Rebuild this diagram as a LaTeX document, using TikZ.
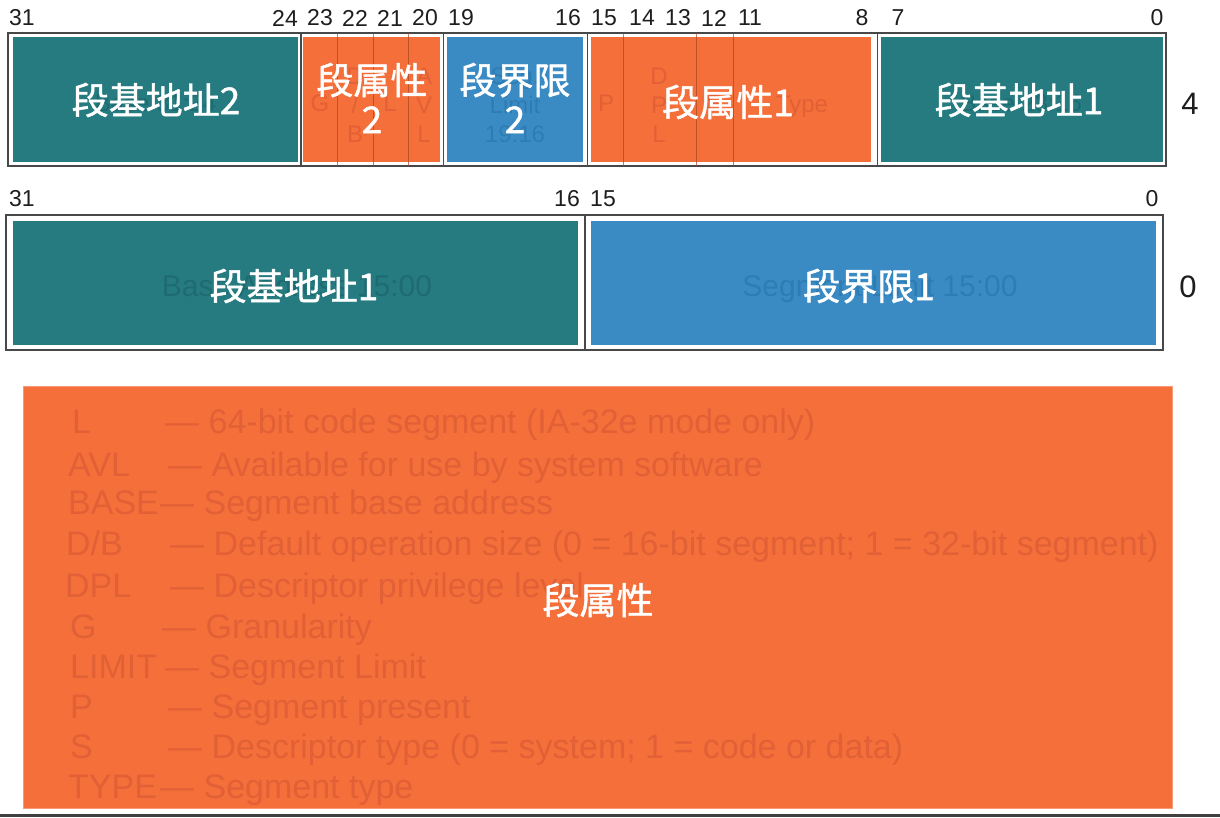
\documentclass[tikz,border=0pt]{standalone}
\usepackage{fontspec}
\setmainfont{Liberation Sans}
\newfontfamily\cjk{Noto Sans CJK SC}[FakeBold=1.2]
\definecolor{cteal}{RGB}{38,123,128}
\definecolor{cblue}{RGB}{58,139,196}
\definecolor{corange}{RGB}{245,111,59}
\definecolor{fteal}{RGB}{30,108,114}
\definecolor{fblue}{RGB}{46,124,180}
\definecolor{forange}{RGB}{226,96,54}
\definecolor{framegray}{RGB}{72,72,72}
\definecolor{numgray}{RGB}{30,30,30}
\definecolor{bitline}{RGB}{170,70,35}
\begin{document}
\begin{tikzpicture}[x=1pt,y=-1pt,
  cell/.style={rectangle,inner sep=0pt,outer sep=0pt,draw=none},
  frame/.style={rectangle,inner sep=0pt,outer sep=0pt,draw=framegray,line width=1.5pt,fill=white},
  divider/.style={draw=framegray,line width=1.5pt},
  bitline/.style={draw=bitline,line width=0.8pt,opacity=0.7},
  bitnum/.style={inner sep=0pt,text=numgray,font=\fontsize{23}{23}\selectfont},
  rownum/.style={inner sep=0pt,text=numgray,font=\fontsize{31}{31}\selectfont},
  cn/.style={inner sep=0pt,text=white,align=center,font=\cjk\fontsize{37}{39}\selectfont},
  fsmall/.style={inner sep=0pt,align=center,font=\fontsize{24}{29}\selectfont},
  fbig/.style={inner sep=0pt,anchor=base,font=\fontsize{30}{30}\selectfont},
  legtext/.style={inner sep=0pt,anchor=base west,text=forange,font=\fontsize{34}{34}\selectfont}
]
\useasboundingbox (0,0) rectangle (1220,817);
\fill[white] (0,0) rectangle (1220,817);

% ---------- row 4 ----------
\node[frame,minimum width=1158pt,minimum height=133pt] (row4) at (587,99.5) {};
\node[cell,fill=cteal,minimum width=285pt,minimum height=125pt] (base2) at (155.5,99.5) {};
\node[cell,fill=corange,minimum width=137pt,minimum height=125pt] (attr2) at (371.5,99.5) {};
\node[cell,fill=cblue,minimum width=136pt,minimum height=125pt] (lim2) at (515,99.5) {};
\node[cell,fill=corange,minimum width=280pt,minimum height=125pt] (attr1) at (731,99.5) {};
\node[cell,fill=cteal,minimum width=282pt,minimum height=125pt] (base1h) at (1021.5,99.5) {};
\foreach \x in {301,443.5,587.5,877.5} \draw[divider] (\x,33) -- (\x,166);
\foreach \x in {337,373,408,623,696,733} \draw[bitline] (\x,33) -- (\x,166);

% faint original labels
\node[fsmall,text=fteal] (fb2) at (155.5,103) {Base 31:24};
\node[fsmall,text=forange] (fg) at (320,103) {G};
\node[fsmall,text=forange] (fdb) at (355,105) {D\\/\\B};
\node[fsmall,text=forange] (fl) at (390,103) {L};
\node[fsmall,text=forange] (favl) at (424,105) {A\\V\\L};
\node[fsmall,text=fblue] (flim) at (515,105) {Seg.\\Limit\\19:16};
\node[fsmall,text=forange] (fp) at (606,103) {P};
\node[fsmall,text=forange] (fdpl) at (659,105) {D\\P\\L};
\node[fsmall,text=forange] (fs) at (714,103) {S};
\node[fsmall,text=forange,anchor=base] (ftype) at (802,112) {Type};
\node[fsmall,text=fteal] (fb1) at (1021,103) {Base 23:16};

% white labels
\node[cn] (lbase2) at (156,100) {段基地址2};
\node[cn] (lattr2) at (372,98) {段属性\\2};
\node[cn] (llim2) at (515,98) {段界限\\2};
\node[cn] (lattr1) at (728,102) {段属性1};
\node[cn] (lbase1h) at (1019,100) {段基地址1};

% bit numbers row 4
\foreach \x/\t [count=\i] in {22/31,285/24,320/23,355/22,390/21,425/20,461/19,568/16,604/15,642/14,678/13,714/12,750/11,862/8,898/7,1157/0}
  \node[bitnum] (bt\i) at (\x,18) {\t};
\node[rownum] (rn4) at (1190,104) {4};

% ---------- row 0 ----------
\node[frame,minimum width=1157pt,minimum height=135pt] (row0) at (584.5,282.5) {};
\node[cell,fill=cteal,minimum width=565pt,minimum height=124pt] (base1) at (295.5,282.5) {};
\node[cell,fill=cblue,minimum width=565pt,minimum height=124pt] (lim1) at (873.5,282.5) {};
\draw[divider] (585,215) -- (585,350);
\node[fbig,text=fteal] (fba) at (297,296) {Base Address 15:00};
\node[fbig,text=fblue] (fsl) at (880,296) {Segment Limit 15:00};
\node[cn] (lbase1) at (294,286) {段基地址1};
\node[cn] (llim1) at (869,286) {段界限1};
\foreach \x/\t [count=\i] in {22/31,567/16,603/15,1152/0}
  \node[bitnum] (bb\i) at (\x,199) {\t};
\node[rownum] (rn0) at (1188,287) {0};

% ---------- legend ----------
\node[cell,fill=corange,draw=corange!70!white,line width=0.6pt,minimum width=1149pt,minimum height=422pt] (legend) at (597.5,597) {};
\foreach \y/\ax/\ab/\dx/\desc [count=\i] in {
  421/72/L/165/64-bit code segment (IA-32e mode only),
  464/68/AVL/168/Available for use by system software,
  502/68/BASE/160/Segment base address,
  543/66/{D/B}/170/{Default operation size (0 = 16-bit segment; 1 = 32-bit segment)},
  585/65/DPL/170/Descriptor privilege level,
  626/70/G/162/Granularity,
  666/70/LIMIT/165/Segment Limit,
  706/70/P/168/Segment present,
  746/70/S/168/{Descriptor type (0 = system; 1 = code or data)},
  786/68/TYPE/160/Segment type}
{
  \node[legtext] (lga\i) at (\ax,\y+12) {\ab};
  \node[legtext] (lgd\i) at (\dx,\y+12) {— \desc};
}
\node[cn] (lattr) at (598,600) {段属性};

% bottom bar
\fill[black!75] (0,813.5) rectangle (1220,817);
\end{tikzpicture}
\end{document}
